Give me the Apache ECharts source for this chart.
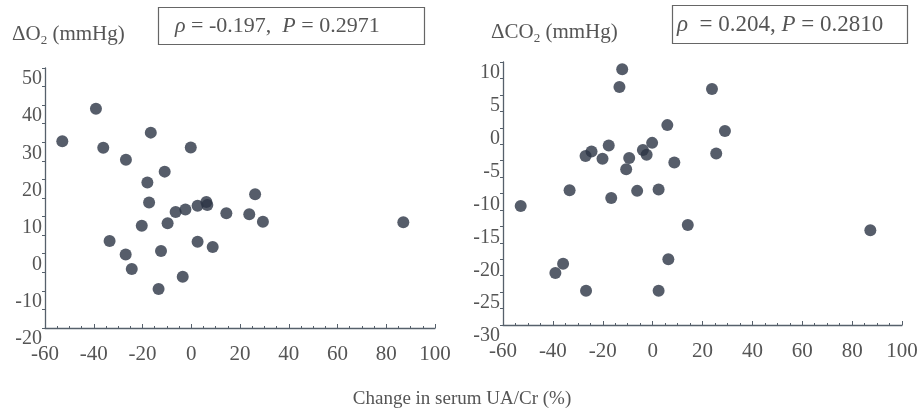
<!DOCTYPE html>
<html>
<head>
<meta charset="utf-8">
<script src="https://cdn.jsdelivr.net/npm/echarts@6/dist/echarts.min.js"></script>
<style>
  html, body { margin: 0; padding: 0; background: #fff; }
  #chart { width: 924px; height: 415px; }
</style>
</head>
<body>
<div id="chart"></div>
<script>
// 左图：ΔO2 与血清 UA/Cr 变化
var o2X = [-52.9, -39.1, -36.1, -26.8, -16.6, -0.2, -10.9, -18.0, 26.2, -17.3,
           -6.4, -2.4, 2.6, 6.2, 6.6, 14.4, 23.8, 29.4, 87.0, -20.3,
           -9.7, -33.5, 2.6, -26.9, -12.4, 8.8, -24.4, -3.5, -13.4];
var o2Y = [30.3, 39.0, 28.5, 25.3, 32.6, 28.6, 22.1, 19.2, 16.0, 13.8,
           11.2, 11.9, 12.9, 13.9, 13.1, 10.9, 10.6, 8.6, 8.5, 7.5,
           8.2, 3.4, 3.2, -0.2, 0.7, 1.8, -4.1, -6.2, -9.5];
// 右图：ΔCO2
var co2X = [-12.2, -13.3, 23.8, 5.9, 29.0, -17.6, -0.2, -24.5, -26.9, -20.1,
            -9.4, -3.9, -2.4, 25.5, 8.7, -10.6, -33.3, -6.2, 2.4, -16.6,
            -52.9, 14.1, 87.3, 6.3, -35.9, -39.0, -26.7, 2.4];
var co2Y = [8.9, 6.2, 5.9, 0.4, -0.5, -2.7, -2.3, -3.6, -4.3, -4.7,
            -4.6, -3.4, -4.1, -3.9, -5.3, -6.3, -9.5, -9.6, -9.4, -10.7,
            -11.9, -14.8, -15.6, -20.0, -20.7, -22.1, -24.8, -24.8];
var xTicks = [-60, 100, 20];     // min, max, interval
var o2Ticks = [-20, 50, 10];
var co2Ticks = [-30, 10, 5];

function zip(xs, ys) {
    return xs.map(function (x, i) { return [x, ys[i]]; });
}

var axisColor = '#56606b';
var textColor = '#555';
var font = 'Liberation Serif';

function xAxisOpt(idx) {
    return {
        gridIndex: idx, type: 'value',
        min: xTicks[0], max: xTicks[1], interval: xTicks[2],
        axisLine: { onZero: false, lineStyle: { color: axisColor, width: 1.3 } },
        axisTick: { inside: true, length: 4, lineStyle: { color: axisColor } },
        minorTick: { show: true, splitNumber: 4, length: 2, lineStyle: { color: axisColor } },
        axisLabel: { color: textColor, fontFamily: font, fontSize: 21, margin: 16 },
        splitLine: { show: false }
    };
}
function yAxisOpt(idx, t) {
    return {
        gridIndex: idx, type: 'value',
        min: t[0], max: t[1], interval: t[2],
        axisLine: { show: true, onZero: false, lineStyle: { color: axisColor, width: 1.3 } },
        axisTick: { show: true, length: 3, lineStyle: { color: axisColor } },
        minorTick: { show: true, splitNumber: 2, length: 3, lineStyle: { color: axisColor } },
        axisLabel: { color: textColor, fontFamily: font, fontSize: 20, margin: 3,
                     verticalAlign: 'top', padding: [1, 0, 0, 0] },
        splitLine: { show: false }
    };
}

var chart = echarts.init(document.getElementById('chart'));
var dotStyle = { color: '#2c3545' };
var headStyle = {
    color: textColor, fontFamily: font, fontSize: 21, fontWeight: 'normal',
    rich: {
        sub: { fontSize: 13, fontFamily: font, color: textColor, padding: [13, 0, 0, 0] },
        i: { fontStyle: 'italic', fontFamily: font, fontSize: 22, color: textColor },
        n: { fontFamily: font, fontSize: 22, color: textColor },
        i2: { fontStyle: 'italic', fontFamily: font, fontSize: 23, color: textColor },
        n2: { fontFamily: font, fontSize: 23, color: textColor }
    }
};
var option = {
    backgroundColor: '#fff',
    animation: false,
    grid: [
        { left: 45, right: 489, top: 68, bottom: 87 },
        { left: 503, right: 22, top: 62, bottom: 90 }
    ],
    xAxis: [xAxisOpt(0), xAxisOpt(1)],
    yAxis: [yAxisOpt(0, o2Ticks), yAxisOpt(1, co2Ticks)],
    title: [
        { text: 'ΔO{sub|2} (mmHg)', left: 7, top: 16, textStyle: headStyle },
        { text: '{i|ρ}{n| = -0.197,  }{i|P}{n| = 0.2971}', left: 170, top: 10, textStyle: headStyle },
        { text: 'ΔCO{sub|2} (mmHg)', left: 486, top: 14, textStyle: headStyle },
        { text: '{i2|ρ}{n2|  = 0.204, }{i2|P}{n2| = 0.2810}', left: 672, top: 8, textStyle: headStyle },
        {
            text: 'Change in serum UA/Cr (%)', left: 'center', top: 385,
            textStyle: { color: textColor, fontFamily: font, fontSize: 19, fontWeight: 'normal' }
        }
    ],
    graphic: [
        { type: 'rect', shape: { x: 158.5, y: 7.5, width: 266, height: 37 },
          style: { fill: 'none', stroke: '#666', lineWidth: 1.2 } },
        { type: 'rect', shape: { x: 672.5, y: 5.5, width: 235, height: 38 },
          style: { fill: 'none', stroke: '#666', lineWidth: 1.2 } }
    ],
    series: [
        { type: 'scatter', xAxisIndex: 0, yAxisIndex: 0, symbolSize: 12,
          itemStyle: dotStyle, data: zip(o2X, o2Y) },
        { type: 'scatter', xAxisIndex: 1, yAxisIndex: 1, symbolSize: 12,
          itemStyle: dotStyle, data: zip(co2X, co2Y) }
    ]
};
chart.setOption(option);
</script>
</body>
</html>
